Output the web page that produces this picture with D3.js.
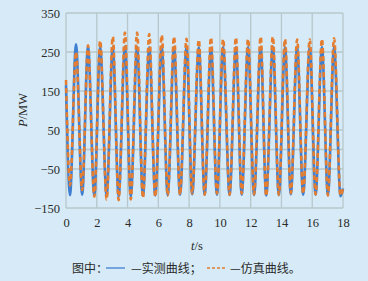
<!DOCTYPE html>
<html><head><meta charset="utf-8">
<script src="https://cdn.jsdelivr.net/npm/d3@7"></script>
<style>
html,body{margin:0;padding:0;background:#d6ebf7;}
svg{display:block;}
</style></head>
<body><svg id="c" width="368" height="281"></svg>
<script>
// ---- data ----
const xTicks = [0,2,4,6,8,10,12,14,16,18];
const yTicks = [-150,-50,50,150,250,350];
const startTime = 0, endTime = 18;
const peakTimes = [0.65,1.43,2.22,3.04,3.83,4.62,5.41,6.22,7.02,7.83,8.63,9.42,10.21,11.04,11.83,12.65,13.44,14.23,15.02,15.84,16.63,17.42];
const troughTimes = [0.26,1.05,1.84,2.64,3.42,4.21,5.00,5.80,6.61,7.41,8.20,9.01,9.81,10.63,11.42,12.22,13.01,13.83,14.61,15.41,16.22,17.02,17.84];
const measuredStart = 165, measuredEnd = -100;
const measuredPeaks = [270,264,263,262,264,263,262,263,262,263,262,261,263,262,263,262,264,262,262,262,263,262];
const measuredTroughs = [-117,-116,-118,-119,-120,-120,-119,-118,-117,-116,-115,-116,-116,-117,-116,-117,-118,-117,-115,-116,-116,-117,-120];
const simStart = 178, simEnd = -100;
const simPeaks = [250,267,279,289,300,300,296,293,289,284,281,287,283,287,283,289,289,283,282,282,283,285];
const simTroughs = [-92,-104,-121,-128,-130,-128,-124,-121,-118,-116,-113,-116,-113,-116,-113,-115,-119,-116,-112,-113,-115,-118,-118];

function buildSeries(start, end, peaks, troughs){
  const pts = [{t:startTime, v:start}];
  troughTimes.forEach((t,i)=>pts.push({t, v:troughs[i]}));
  peakTimes.forEach((t,i)=>pts.push({t, v:peaks[i]}));
  pts.push({t:endTime, v:end});
  return pts.sort((a,b)=>a.t-b.t);
}
const measured = buildSeries(measuredStart, measuredEnd, measuredPeaks, measuredTroughs);
const simulated = buildSeries(simStart, simEnd, simPeaks, simTroughs);

// ---- drawing ----
const svg = d3.select('#c');
const x = d3.scaleLinear().domain([0,18]).range([66,343]);
const y = d3.scaleLinear().domain([-150,350]).range([208,13]);
const grid = '#b7c7cb';
const serif = '"Liberation Serif","DejaVu Serif",serif';
const cjk = '"Noto Sans CJK SC","Noto Sans CJK TC",sans-serif';

svg.append('rect').attr('width',368).attr('height',281).attr('fill','#d6ebf7');

// grid
svg.append('g').selectAll('line').data(xTicks).join('line')
  .attr('x1',d=>x(d)).attr('x2',d=>x(d)).attr('y1',y(350)).attr('y2',y(-150))
  .attr('stroke',grid).attr('stroke-width',1.3);
svg.append('g').selectAll('line').data(yTicks.concat([0])).join('line')
  .attr('x1',x(0)).attr('x2',x(18)).attr('y1',d=>y(d)).attr('y2',d=>y(d))
  .attr('stroke',grid).attr('stroke-width',1.3);

// axes (labels only)
const yAxis = d3.axisLeft(y).tickValues(yTicks).tickSize(0).tickPadding(6)
  .tickFormat(d=> d<0 ? '\u2212'+Math.abs(d) : d);
svg.append('g').attr('transform',`translate(${x(0)},0)`).call(yAxis)
  .call(g=>g.select('.domain').remove())
  .selectAll('text').attr('font-family',serif).attr('font-size',12.5).attr('fill','#2a2a2a');
const xAxis = d3.axisBottom(x).tickValues(xTicks).tickSize(0).tickPadding(10);
svg.append('g').attr('transform',`translate(0,${y(-150)})`).call(xAxis)
  .call(g=>g.select('.domain').remove())
  .selectAll('text').attr('font-family',serif).attr('font-size',12.5).attr('fill','#2a2a2a');

// lines
const line = d3.line().x(d=>x(d.t)).y(d=>y(d.v)).curve(d3.curveMonotoneX);
const plot = svg.append('g');
plot.append('path').datum(measured).attr('d',line)
  .attr('fill','none').attr('stroke','#3f7fd2').attr('stroke-width',2.6);
plot.append('path').datum(simulated).attr('d',line)
  .attr('fill','none').attr('stroke','#e47d2f').attr('stroke-width',2.6)
  .attr('stroke-dasharray','5,3');

// axis titles
const yt = svg.append('text').attr('transform','translate(27,110) rotate(-90)')
  .attr('text-anchor','middle').attr('font-family',serif).attr('font-size',12.5).attr('fill','#2a2a2a');
yt.append('tspan').attr('font-style','italic').text('P');
yt.append('tspan').text('/MW');
const xt = svg.append('text').attr('x',197).attr('y',250)
  .attr('text-anchor','middle').attr('font-family',serif).attr('font-size',12.5).attr('fill','#2a2a2a');
xt.append('tspan').attr('font-style','italic').text('t');
xt.append('tspan').text('/s');

// legend line
const lg = svg.append('g');
lg.append('text').attr('x',72).attr('y',273).attr('font-family',cjk).attr('font-size',12).attr('fill','#2a2a2a').text('图中：');
lg.append('line').attr('x1',106).attr('x2',125).attr('y1',268).attr('y2',268).attr('stroke','#3f7fd2').attr('stroke-width',1.3);
lg.append('text').attr('x',131).attr('y',273).attr('font-family',cjk).attr('font-size',12).attr('fill','#2a2a2a').text('—实测曲线；');
lg.append('line').attr('x1',207).attr('x2',227).attr('y1',268).attr('y2',268).attr('stroke','#e47d2f').attr('stroke-width',1.3).attr('stroke-dasharray','3,2');
lg.append('text').attr('x',230).attr('y',273).attr('font-family',cjk).attr('font-size',12).attr('fill','#2a2a2a').text('—仿真曲线。');
</script></body></html>
